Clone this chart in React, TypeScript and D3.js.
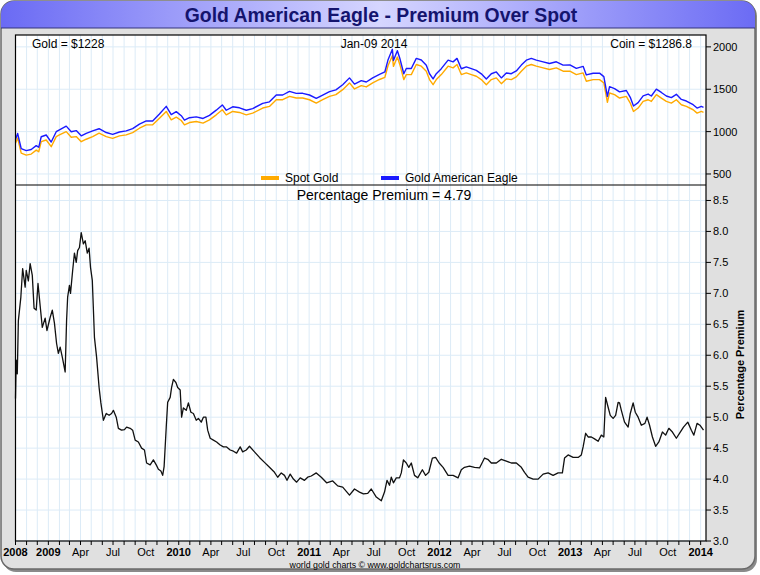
import * as d3 from 'd3';
import { useEffect } from 'react';

// spot gold and coin price
const spotDates = [
  '2008-10-01', '2008-10-07', '2008-10-17', '2008-10-31', '2008-11-14', '2008-11-28', '2008-12-05', '2008-12-12',
  '2008-12-26', '2009-01-09', '2009-01-23', '2009-02-01', '2009-02-20', '2009-03-06', '2009-03-20', '2009-04-03',
  '2009-04-17', '2009-05-05', '2009-05-23', '2009-06-12', '2009-06-30', '2009-07-19', '2009-08-07', '2009-08-25',
  '2009-09-13', '2009-10-02', '2009-10-20', '2009-11-08', '2009-11-27', '2009-12-11', '2009-12-25', '2010-01-08',
  '2010-01-17', '2010-01-31', '2010-02-19', '2010-03-10', '2010-03-28', '2010-04-16', '2010-05-03', '2010-05-14',
  '2010-06-01', '2010-06-20', '2010-07-09', '2010-07-27', '2010-08-24', '2010-09-12', '2010-10-01', '2010-10-19',
  '2010-11-07', '2010-11-26', '2010-12-14', '2011-01-02', '2011-01-21', '2011-02-08', '2011-02-27', '2011-03-17',
  '2011-04-05', '2011-04-24', '2011-05-08', '2011-05-27', '2011-06-10', '2011-06-28', '2011-07-17', '2011-08-01',
  '2011-08-10', '2011-08-22', '2011-08-25', '2011-09-05', '2011-09-12', '2011-09-23', '2011-09-30', '2011-10-14',
  '2011-10-28', '2011-11-11', '2011-11-25', '2011-12-04', '2011-12-14', '2011-12-23', '2012-01-06', '2012-01-25',
  '2012-02-08', '2012-02-19', '2012-03-02', '2012-03-16', '2012-03-30', '2012-04-13', '2012-04-27', '2012-05-11',
  '2012-05-25', '2012-06-08', '2012-06-22', '2012-07-06', '2012-07-20', '2012-08-03', '2012-08-17', '2012-08-31',
  '2012-09-14', '2012-09-28', '2012-10-17', '2012-11-04', '2012-11-23', '2012-12-12', '2012-12-31', '2013-01-18',
  '2013-02-06', '2013-02-15', '2013-03-06', '2013-03-24', '2013-04-05', '2013-04-15', '2013-04-21', '2013-05-05',
  '2013-05-19', '2013-06-07', '2013-06-18', '2013-06-27', '2013-07-10', '2013-07-24', '2013-08-07', '2013-08-16',
  '2013-08-30', '2013-09-13', '2013-09-27', '2013-10-11', '2013-10-25', '2013-11-08', '2013-11-22', '2013-12-11',
  '2013-12-22', '2014-01-03', '2014-01-09',
];
const spotGold = [
  862, 925, 747, 723, 735, 782, 762, 881, 901, 822, 941, 961, 1000, 933, 941, 881,
  910, 941, 981, 941, 921, 949, 961, 988, 1040, 1080, 1080, 1159, 1238, 1139, 1171, 1131,
  1080, 1107, 1119, 1100, 1139, 1198, 1258, 1198, 1238, 1226, 1198, 1218, 1278, 1297, 1376, 1376,
  1416, 1396, 1396, 1376, 1337, 1376, 1416, 1436, 1495, 1575, 1503, 1543, 1527, 1575, 1615, 1640,
  1780, 1895, 1770, 1880, 1790, 1614, 1673, 1673, 1792, 1772, 1713, 1614, 1554, 1614, 1673, 1772,
  1752, 1792, 1673, 1693, 1673, 1653, 1614, 1554, 1614, 1634, 1566, 1622, 1614, 1646, 1713, 1772,
  1792, 1772, 1752, 1733, 1752, 1713, 1713, 1673, 1693, 1594, 1614, 1614, 1575, 1345, 1456, 1436,
  1396, 1416, 1337, 1238, 1278, 1356, 1376, 1356, 1436, 1396, 1356, 1337, 1376, 1317, 1297, 1258,
  1218, 1238, 1228,
];
const coinPrice = [
  908, 978, 799, 776, 789, 835, 815, 939, 960, 877, 999, 1020, 1065, 999, 1012, 951,
  980, 1008, 1034, 989, 968, 995, 1008, 1035, 1088, 1126, 1126, 1207, 1298, 1201, 1236, 1188,
  1135, 1164, 1174, 1155, 1192, 1253, 1315, 1252, 1293, 1281, 1252, 1272, 1333, 1351, 1432, 1432,
  1474, 1451, 1452, 1432, 1392, 1431, 1472, 1492, 1553, 1634, 1561, 1601, 1585, 1635, 1674, 1704,
  1849, 1971, 1839, 1955, 1863, 1683, 1744, 1744, 1864, 1845, 1783, 1683, 1622, 1683, 1743, 1844,
  1823, 1864, 1742, 1764, 1743, 1722, 1682, 1621, 1683, 1704, 1634, 1692, 1683, 1716, 1785, 1843,
  1864, 1843, 1823, 1804, 1824, 1785, 1788, 1746, 1770, 1669, 1689, 1690, 1649, 1415, 1530, 1508,
  1469, 1485, 1405, 1302, 1342, 1422, 1443, 1420, 1501, 1462, 1420, 1401, 1440, 1380, 1361, 1318,
  1278, 1298, 1287,
];

// percentage premium
const premiumDates = [
  '2008-10-01', '2008-10-03', '2008-10-06', '2008-10-09', '2008-10-16', '2008-10-21', '2008-10-28', '2008-10-31',
  '2008-11-06', '2008-11-11', '2008-11-17', '2008-11-22', '2008-11-28', '2008-12-03', '2008-12-09', '2008-12-15',
  '2008-12-23', '2008-12-28', '2009-01-06', '2009-01-12', '2009-01-18', '2009-01-24', '2009-01-29', '2009-02-03',
  '2009-02-09', '2009-02-17', '2009-02-21', '2009-02-24', '2009-03-01', '2009-03-04', '2009-03-10', '2009-03-15',
  '2009-03-20', '2009-03-24', '2009-03-29', '2009-04-03', '2009-04-09', '2009-04-14', '2009-04-20', '2009-04-25',
  '2009-04-29', '2009-05-04', '2009-05-10', '2009-05-16', '2009-05-23', '2009-05-28', '2009-06-04', '2009-06-12',
  '2009-06-20', '2009-06-27', '2009-07-02', '2009-07-10', '2009-07-16', '2009-07-25', '2009-08-02', '2009-08-08',
  '2009-08-18', '2009-08-25', '2009-09-01', '2009-09-10', '2009-09-19', '2009-09-27', '2009-10-03', '2009-10-13',
  '2009-10-22', '2009-10-30', '2009-11-05', '2009-11-12', '2009-11-17', '2009-11-21', '2009-11-27', '2009-12-01',
  '2009-12-08', '2009-12-12', '2009-12-17', '2009-12-24', '2009-12-29', '2010-01-05', '2010-01-09', '2010-01-14',
  '2010-01-22', '2010-01-28', '2010-02-04', '2010-02-11', '2010-02-19', '2010-02-25', '2010-03-05', '2010-03-11',
  '2010-03-18', '2010-03-23', '2010-03-30', '2010-04-08', '2010-04-17', '2010-04-27', '2010-05-06', '2010-05-15',
  '2010-05-25', '2010-06-03', '2010-06-12', '2010-06-22', '2010-06-29', '2010-07-09', '2010-07-18', '2010-08-01',
  '2010-08-15', '2010-08-29', '2010-09-12', '2010-09-26', '2010-10-05', '2010-10-15', '2010-10-24', '2010-10-31',
  '2010-11-09', '2010-11-18', '2010-11-27', '2010-12-07', '2010-12-19', '2010-12-28', '2011-01-07', '2011-01-21',
  '2011-02-04', '2011-02-19', '2011-03-08', '2011-03-22', '2011-04-05', '2011-04-24', '2011-05-08', '2011-05-22',
  '2011-06-02', '2011-06-14', '2011-06-24', '2011-07-08', '2011-07-22', '2011-07-31', '2011-08-07', '2011-08-14',
  '2011-08-19', '2011-08-25', '2011-09-02', '2011-09-11', '2011-09-16', '2011-09-22', '2011-09-30', '2011-10-07',
  '2011-10-14', '2011-10-23', '2011-11-01', '2011-11-14', '2011-11-23', '2011-12-02', '2011-12-12', '2011-12-21',
  '2011-12-31', '2012-01-11', '2012-01-25', '2012-02-08', '2012-02-22', '2012-03-02', '2012-03-11', '2012-03-25',
  '2012-04-08', '2012-04-22', '2012-05-06', '2012-05-15', '2012-05-25', '2012-06-08', '2012-06-22', '2012-07-06',
  '2012-07-20', '2012-08-03', '2012-08-17', '2012-08-26', '2012-09-05', '2012-09-19', '2012-10-03', '2012-10-17',
  '2012-10-31', '2012-11-14', '2012-11-28', '2012-12-10', '2012-12-16', '2012-12-26', '2013-01-09', '2013-01-23',
  '2013-02-01', '2013-02-06', '2013-02-13', '2013-02-20', '2013-03-01', '2013-03-10', '2013-03-20', '2013-03-29',
  '2013-04-05', '2013-04-10', '2013-04-17', '2013-04-23', '2013-05-01', '2013-05-08', '2013-05-15', '2013-05-19',
  '2013-05-24', '2013-06-02', '2013-06-12', '2013-06-18', '2013-06-26', '2013-07-02', '2013-07-10', '2013-07-19',
  '2013-07-29', '2013-08-04', '2013-08-11', '2013-08-19', '2013-08-28', '2013-09-06', '2013-09-16', '2013-09-25',
  '2013-10-04', '2013-10-14', '2013-10-25', '2013-11-05', '2013-11-14', '2013-11-26', '2013-12-06', '2013-12-13',
  '2013-12-22', '2013-12-30', '2014-01-09',
];
const premiumValues = [
  5.30, 5.92, 5.70, 6.56, 6.94, 7.40, 7.10, 7.37, 7.20, 7.48, 7.29, 6.76, 6.73, 7.16, 6.80, 6.45,
  6.60, 6.40, 6.61, 6.73, 6.52, 6.19, 6.03, 6.13, 5.97, 5.73, 6.56, 6.94, 7.13, 7.00, 7.37, 7.65,
  7.50, 7.69, 7.74, 7.98, 7.80, 7.85, 7.65, 7.73, 7.42, 7.21, 6.29, 5.97, 5.48, 5.23, 4.95, 5.06,
  5.03, 5.06, 5.11, 5.00, 4.82, 4.79, 4.80, 4.84, 4.82, 4.79, 4.63, 4.60, 4.50, 4.47, 4.26, 4.23,
  4.31, 4.23, 4.16, 4.13, 4.06, 4.20, 4.84, 5.24, 5.32, 5.48, 5.61, 5.56, 5.48, 5.44, 5.00, 5.15,
  5.11, 5.23, 5.08, 5.06, 4.95, 4.98, 4.92, 5.00, 5.00, 4.79, 4.66, 4.63, 4.60, 4.55, 4.52, 4.52,
  4.47, 4.45, 4.42, 4.52, 4.44, 4.47, 4.53, 4.44, 4.35, 4.27, 4.19, 4.11, 4.03, 4.10, 4.06, 3.98,
  4.08, 4.00, 3.95, 4.02, 3.98, 4.03, 4.05, 4.10, 4.03, 3.94, 3.97, 3.89, 3.87, 3.74, 3.84, 3.79,
  3.76, 3.77, 3.84, 3.71, 3.65, 3.79, 3.98, 3.90, 4.03, 3.94, 4.02, 4.02, 4.10, 4.31, 4.26, 4.19,
  4.26, 4.06, 4.02, 4.15, 4.06, 4.11, 4.34, 4.35, 4.26, 4.19, 4.06, 4.06, 4.02, 4.15, 4.19, 4.21,
  4.19, 4.18, 4.34, 4.32, 4.26, 4.26, 4.32, 4.29, 4.26, 4.26, 4.19, 4.11, 4.03, 4.00, 4.00, 4.08,
  4.10, 4.06, 4.10, 4.10, 4.34, 4.39, 4.35, 4.35, 4.39, 4.52, 4.74, 4.68, 4.68, 4.65, 4.61, 4.71,
  4.68, 5.32, 5.16, 5.03, 4.98, 5.03, 5.24, 5.23, 5.11, 4.92, 4.84, 5.06, 5.23, 5.08, 5.00, 4.87,
  4.90, 5.00, 4.87, 4.68, 4.53, 4.60, 4.76, 4.71, 4.82, 4.76, 4.66, 4.76, 4.84, 4.92, 4.79, 4.71,
  4.90, 4.87, 4.79,
];

const priceTicks = [500, 1000, 1500, 2000];
const premiumTicks = [3.0, 3.5, 4.0, 4.5, 5.0, 5.5, 6.0, 6.5, 7.0, 7.5, 8.0, 8.5];

const width = 760;
const height = 575;
const plot = { left: 15.5, right: 706, top: 35, split: 185, bottom: 541 };
const font = "'Liberation Sans', Arial, sans-serif";
const gridColor = '#dcebf7';

const parse = d3.utcParse('%Y-%m-%d');

const App = () => {
  useEffect(() => {
    document.body.style.margin = '0';
  }, []);

  const start = parse('2008-10-01') as Date;
  const end = parse('2014-01-16') as Date;
  const xScale = d3.scaleUtc().domain([start, end]).range([plot.left, plot.right]);
  const yPrice = d3.scaleLinear().domain([370, 2140]).range([plot.split, plot.top]);
  const yPremium = d3.scaleLinear().domain([3, 8.75]).range([plot.bottom, plot.split]);

  const spot = spotDates.map((d, i) => ({ date: parse(d) as Date, value: spotGold[i] }));
  const coin = spotDates.map((d, i) => ({ date: parse(d) as Date, value: coinPrice[i] }));
  const premium = premiumDates.map((d, i) => ({ date: parse(d) as Date, value: premiumValues[i] }));

  const priceLine = d3
    .line<{ date: Date; value: number }>()
    .x(d => xScale(d.date))
    .y(d => yPrice(d.value));
  const premiumLine = d3
    .line<{ date: Date; value: number }>()
    .x(d => xScale(d.date))
    .y(d => yPremium(d.value));

  const months = d3.utcMonth.range(start, end);
  const quarters = months.filter(m => m.getUTCMonth() % 3 === 0);
  const monthName = d3.utcFormat('%b');

  return (
    <svg width={width} height={height} viewBox={`0 0 ${width} ${height}`} style={{ display: 'block' }}>
      <defs>
        <linearGradient id="titleBar" x1="0" x2="1" y1="0" y2="0">
          <stop offset="0%" stopColor="#6a6af4" />
          <stop offset="50%" stopColor="#d6d6ff" />
          <stop offset="100%" stopColor="#6a6af4" />
        </linearGradient>
        <clipPath id="frameClip">
          <rect x={1} y={1} width={754} height={568} rx={13} />
        </clipPath>
      </defs>

      <rect x={3} y={3} width={754} height={569} rx={13} fill="#8a8a8a" />
      <rect x={1} y={1} width={754} height={568} rx={13} fill="#e0e0e0" stroke="#6a6a6a" strokeWidth={1.5} />
      <g clipPath="url(#frameClip)">
        <rect x={0} y={0} width={width} height={28} fill="url(#titleBar)" />
        <line x1={0} x2={width} y1={28} y2={28} stroke="#34347a" strokeWidth={1.2} />
      </g>
      <text
        x={381}
        y={22}
        textAnchor="middle"
        fontFamily={font}
        fontWeight="bold"
        fontSize={19.4}
        fill="#14146e"
      >
        Gold American Eagle - Premium Over Spot
      </text>

      <rect x={plot.left} y={plot.top} width={plot.right - plot.left} height={plot.bottom - plot.top} fill="#fff" />

      {months.map((m, i) => (
        <line
          key={`vg${i}`}
          x1={xScale(m)}
          x2={xScale(m)}
          y1={plot.top}
          y2={plot.bottom}
          stroke={gridColor}
          strokeWidth={1}
        />
      ))}
      {priceTicks.map(t => (
        <line key={`pg${t}`} x1={plot.left} x2={plot.right} y1={yPrice(t)} y2={yPrice(t)} stroke={gridColor} />
      ))}
      {premiumTicks.map(t => (
        <line key={`qg${t}`} x1={plot.left} x2={plot.right} y1={yPremium(t)} y2={yPremium(t)} stroke={gridColor} />
      ))}

      <path d={priceLine(spot) || ''} fill="none" stroke="#ffaa00" strokeWidth={1.4} strokeLinejoin="round" />
      <path d={priceLine(coin) || ''} fill="none" stroke="#1a1aff" strokeWidth={1.4} strokeLinejoin="round" />
      <path d={premiumLine(premium) || ''} fill="none" stroke="#111" strokeWidth={1.3} strokeLinejoin="round" />

      <rect
        x={plot.left}
        y={plot.top}
        width={plot.right - plot.left}
        height={plot.bottom - plot.top}
        fill="none"
        stroke="#000"
        strokeWidth={1.2}
      />
      <line x1={plot.left} x2={plot.right} y1={plot.split} y2={plot.split} stroke="#000" strokeWidth={1.2} />

      <g fontFamily={font} fontSize={12} fill="#000">
        <text x={32} y={48}>Gold = $1228</text>
        <text x={374} y={48} textAnchor="middle">Jan-09  2014</text>
        <text x={692} y={48} textAnchor="end">Coin = $1286.8</text>
        <text x={384} y={200} textAnchor="middle" fontSize={14}>Percentage Premium = 4.79</text>
      </g>

      <g fontFamily={font} fontSize={12}>
        <line x1={261} x2={279} y1={178} y2={178} stroke="#ffaa00" strokeWidth={4} />
        <text x={285} y={182}>Spot Gold</text>
        <line x1={381} x2={399} y1={178} y2={178} stroke="#1a1aff" strokeWidth={4} />
        <text x={405} y={182}>Gold American Eagle</text>
      </g>

      <g fontFamily={font} fontSize={11} fill="#000">
        {priceTicks.map(t => (
          <g key={`pt${t}`}>
            <line x1={plot.right} x2={plot.right + 5} y1={yPrice(t)} y2={yPrice(t)} stroke="#000" />
            <text x={plot.right + 7} y={yPrice(t) + 4}>{t}</text>
          </g>
        ))}
        {premiumTicks.map(t => (
          <g key={`qt${t}`}>
            <line x1={plot.right} x2={plot.right + 5} y1={yPremium(t)} y2={yPremium(t)} stroke="#000" />
            <text x={plot.right + 7} y={yPremium(t) + 4}>{t.toFixed(1)}</text>
          </g>
        ))}
      </g>
      <text
        transform={`translate(744, ${(yPremium(5) + yPremium(6.7)) / 2}) rotate(-90)`}
        textAnchor="middle"
        fontFamily={font}
        fontWeight="bold"
        fontSize={11}
      >
        Percentage Premium
      </text>

      {months.map((m, i) => (
        <line
          key={`xt${i}`}
          x1={xScale(m)}
          x2={xScale(m)}
          y1={plot.bottom}
          y2={plot.bottom + 4}
          stroke="#000"
        />
      ))}
      <g fontFamily={font} fontSize={11} textAnchor="middle">
        {quarters.map((q, i) => {
          const isYear = i === 0 || q.getUTCMonth() === 0;
          return (
            <text key={`xl${i}`} x={xScale(q)} y={556} fontWeight={isYear ? 'bold' : 'normal'}>
              {isYear ? q.getUTCFullYear() : monthName(q)}
            </text>
          );
        })}
      </g>

      <text x={375} y={568} textAnchor="middle" fontFamily={font} fontSize={8.8}>
        world gold charts © www.goldchartsrus.com
      </text>
    </svg>
  );
};

export default App;
